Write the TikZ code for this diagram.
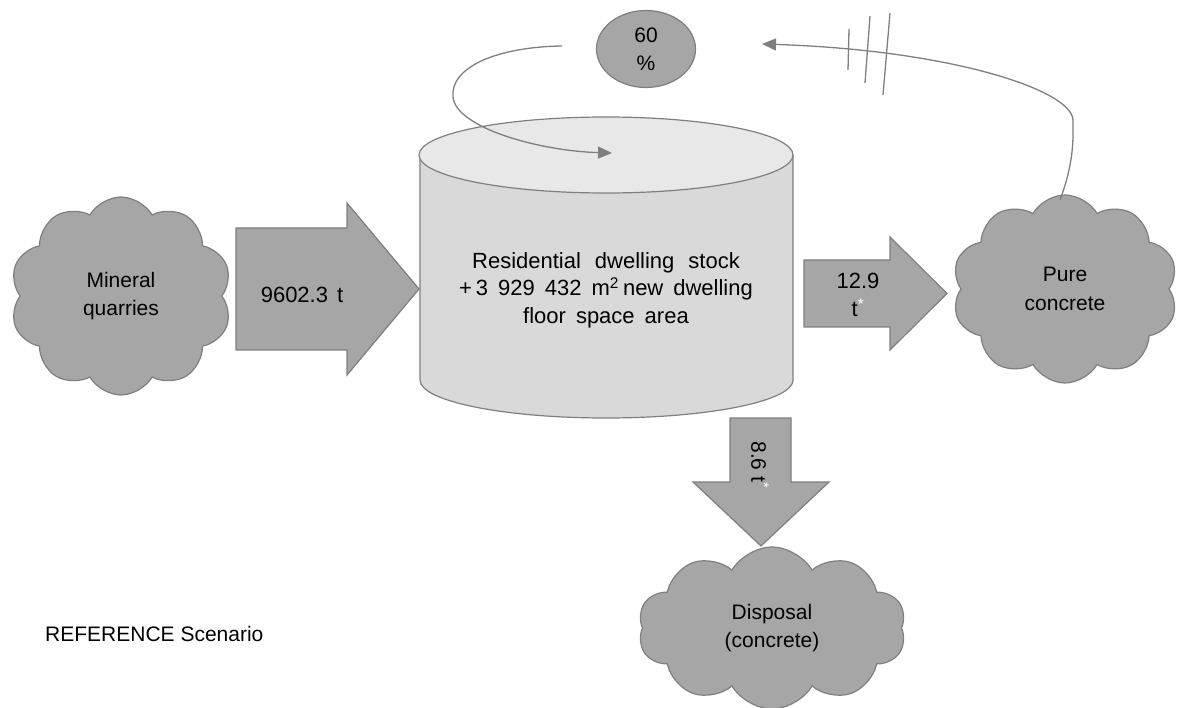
\documentclass[tikz,border=0pt]{standalone}
\usepackage{fontspec}
\setmainfont{Liberation Sans}
\usetikzlibrary{shapes.symbols,shapes.geometric,arrows.meta}
\definecolor{boxgray}{HTML}{A6A6A6}
\definecolor{edgegray}{HTML}{7F7F7F}
\definecolor{topgray}{HTML}{E8E8E8}
\definecolor{bodygray}{HTML}{D9D9D9}
\newcommand{\wsp}{\hspace{10pt}}
\begin{document}
\begin{tikzpicture}[x=1pt,y=-1pt,
  puff/.style={cloud, cloud puffs=10, cloud puff arc=120, cloud ignores aspect,
    draw=edgegray, fill=boxgray, line width=1.2pt, align=center,
    font=\fontsize{21}{28.5}\selectfont, inner sep=0pt},
  blockarrow/.style={draw=edgegray, fill=boxgray, line width=1.2pt, line join=miter},
  flowline/.style={draw=edgegray, line width=1.3pt},
  tip/.style={-{Triangle[length=14pt,width=12pt]}},
  lbl/.style={font=\fontsize{21}{28}\selectfont, align=center, inner sep=0pt}]
\useasboundingbox (0,0) rectangle (1178,708);

% sources and sinks
\node[puff, minimum width=222pt, minimum height=198pt] (quarry) at (121,296) {Mineral\\quarries};
\node[puff, minimum width=226pt, minimum height=188pt] (pure) at (1065,289) {Pure\\concrete};
\node[puff, minimum width=268pt, minimum height=162pt] (disp) at (772,628) {Disposal\\(concrete)};

% dwelling stock cylinder
\path[fill=bodygray, draw=edgegray, line width=1.2pt]
  (420,155) -- (420,380) .. controls (420,401) and (502.7,418) .. (606,418)
  .. controls (709.3,418) and (793,401) .. (793,380) -- (793,155);
\path[fill=topgray, draw=edgegray, line width=1.2pt] (606,155) ellipse [x radius=187, y radius=38];
\node[lbl, font=\fontsize{22}{27.5}\selectfont] (stock) at (606,290)
  {Residential\hspace{14pt}dwelling\hspace{14pt}stock\\
   +\hspace{4pt}3\wsp929\wsp432\wsp m\textsuperscript{2}\hspace{4pt}new\wsp dwelling\\
   floor\wsp space\wsp area};

% flow block arrows
\path[blockarrow] (236,228) -- (347,228) -- (347,203) -- (419,289) -- (347,375) -- (347,350) -- (236,350) -- cycle;
\node[lbl, font=\fontsize{22}{28}\selectfont] (qty1) at (302,295) {9602.3\hspace{9pt}t};

\path[blockarrow] (804,260) -- (890,260) -- (890,237) -- (947,293.5) -- (890,350) -- (890,327) -- (804,327) -- cycle;
\node[lbl, font=\fontsize{22}{28}\selectfont] (qty2) at (858,295) {12.9\\t\textsuperscript{\color{white}*}};

\path[blockarrow] (730,418) -- (791,418) -- (791,482) -- (829,482) -- (761,546) -- (693,482) -- (730,482) -- cycle;
\node[lbl, rotate=-90] (qty3) at (760,465) {8.6 t\textsuperscript{\color{white}*}};

% recycling share
\node[ellipse, draw=edgegray, fill=boxgray, line width=1.2pt, minimum width=99pt, minimum height=77pt,
  lbl, font=\fontsize{21}{28}\selectfont] (share) at (646,49) {60\\\%};

\coordinate (loopstart) at (562,46);
\coordinate (loopend) at (612,153);
\draw[flowline, tip] (loopstart) .. controls (495,47) and (450,68) .. (453,97)
  .. controls (456,128) and (540,151) .. (loopend);

\coordinate (fbstart) at (1060,200);
\coordinate (fbend) at (762,44);
\draw[flowline, tip] (fbstart) .. controls (1075,160) and (1073,135) .. (1073,120)
  .. controls (1072,90) and (950,50) .. (fbend);

% interruption marks
\draw[flowline] (849,29) -- (848,70);
\draw[flowline] (870,16) -- (865,83);
\draw[flowline] (890,13) -- (883,95);

\node[lbl, anchor=west] (scen) at (45,634) {REFERENCE Scenario};
\end{tikzpicture}
\end{document}
